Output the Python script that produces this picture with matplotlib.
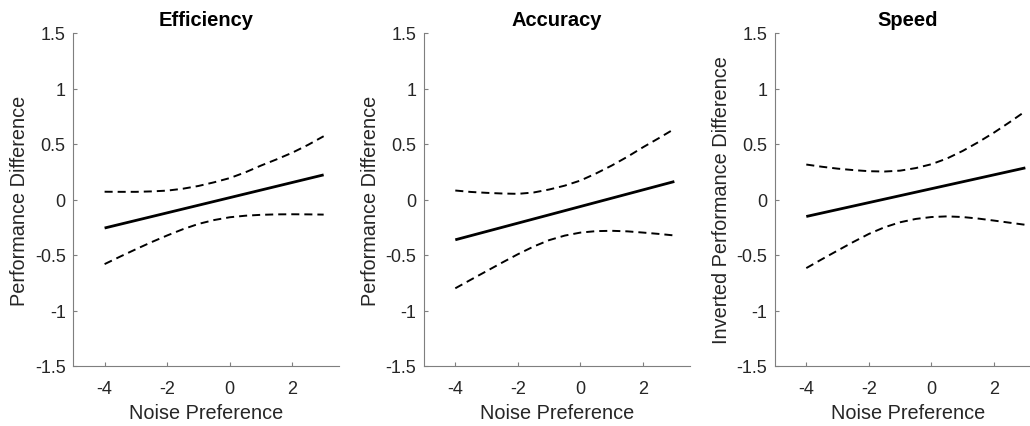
import matplotlib
matplotlib.use("Agg")
import matplotlib.pyplot as plt

plt.rcParams['font.family'] = ['Liberation Sans', 'DejaVu Sans']
plt.rcParams['axes.unicode_minus'] = False
plt.rcParams['lines.scale_dashes'] = False

titles = ["Efficiency", "Accuracy", "Speed"]
ylabels = ["Performance Difference", "Performance Difference", "Inverted Performance Difference"]
xlabel = "Noise Preference"

x_fit = [-4, 3]
x_band = [-4, -3.5, -3, -2.5, -2, -1.5, -1, -0.5, 0, 0.5, 1, 1.5, 2, 2.5, 3]

eff_fit = [-0.257, 0.222]
eff_upper = [0.070, 0.069, 0.069, 0.073, 0.080, 0.097, 0.122, 0.155, 0.193, 0.245, 0.306, 0.362, 0.422, 0.492, 0.570]
eff_lower = [-0.582, -0.514, -0.448, -0.384, -0.324, -0.268, -0.220, -0.185, -0.160, -0.146, -0.138, -0.134, -0.133, -0.134, -0.136]

acc_fit = [-0.363, 0.162]
acc_upper = [0.081, 0.068, 0.060, 0.054, 0.051, 0.063, 0.090, 0.125, 0.171, 0.235, 0.306, 0.385, 0.471, 0.552, 0.636]
acc_lower = [-0.800, -0.722, -0.645, -0.568, -0.493, -0.424, -0.366, -0.325, -0.298, -0.285, -0.282, -0.287, -0.298, -0.310, -0.324]

spd_fit = [-0.153, 0.285]
spd_upper = [0.315, 0.295, 0.278, 0.265, 0.255, 0.252, 0.260, 0.283, 0.318, 0.370, 0.438, 0.517, 0.603, 0.697, 0.795]
spd_lower = [-0.618, -0.538, -0.460, -0.383, -0.310, -0.250, -0.205, -0.175, -0.158, -0.152, -0.158, -0.172, -0.190, -0.209, -0.228]

fits = [eff_fit, acc_fit, spd_fit]
uppers = [eff_upper, acc_upper, spd_upper]
lowers = [eff_lower, acc_lower, spd_lower]

xticks = [-4, -2, 0, 2]
yticks = [-1.5, -1, -0.5, 0, 0.5, 1, 1.5]
ytick_labels = ["-1.5", "-1", "-0.5", "0", "0.5", "1", "1.5"]

W, H = 1030, 427
fig = plt.figure(figsize=(W / 100, H / 100), dpi=100)

lefts = [73.3, 424.0, 775.0]
ax_w = 266.0
ax_top, ax_bot = 34.0, 367.0
axis_color = '#262626'
gray = '#7f7f7f'

for i in range(3):
    ax = fig.add_axes([lefts[i] / W, 1 - ax_bot / H, ax_w / W, (ax_bot - ax_top) / H])
    ax.plot(x_fit, fits[i], color='black', lw=2.0, solid_capstyle='butt')
    ax.plot(x_band, uppers[i], color='black', lw=1.4, dashes=(5.8, 3.6))
    ax.plot(x_band, lowers[i], color='black', lw=1.4, dashes=(5.8, 3.6))
    ax.set_xlim(-5, 3.5)
    ax.set_ylim(-1.5, 1.5)
    ax.set_xticks(xticks)
    ax.set_xticklabels([str(t) for t in xticks])
    ax.set_yticks(yticks)
    ax.set_yticklabels(ytick_labels)
    for s in ['top', 'right']:
        ax.spines[s].set_visible(False)
    for s in ['left', 'bottom']:
        ax.spines[s].set_color(gray)
        ax.spines[s].set_linewidth(0.8)
    ax.tick_params(direction='in', length=3, width=0.8, color=gray,
                   labelsize=13, labelcolor=axis_color)
    ax.tick_params(axis='x', pad=10)
    ax.tick_params(axis='y', pad=5.5)
    ax.set_title(titles[i], fontsize=14.5, fontweight='bold', pad=6, color='black')
    ax.set_xlabel(xlabel, fontsize=14.3, color=axis_color)
    ax.set_ylabel(ylabels[i], fontsize=14.3, color=axis_color)
    ax.xaxis.set_label_coords(0.5, -0.112)
    ax.yaxis.set_label_coords(-0.165, 0.5)
    ax.xaxis.label.set_va('top')

fig.savefig("out.png", dpi=100)
